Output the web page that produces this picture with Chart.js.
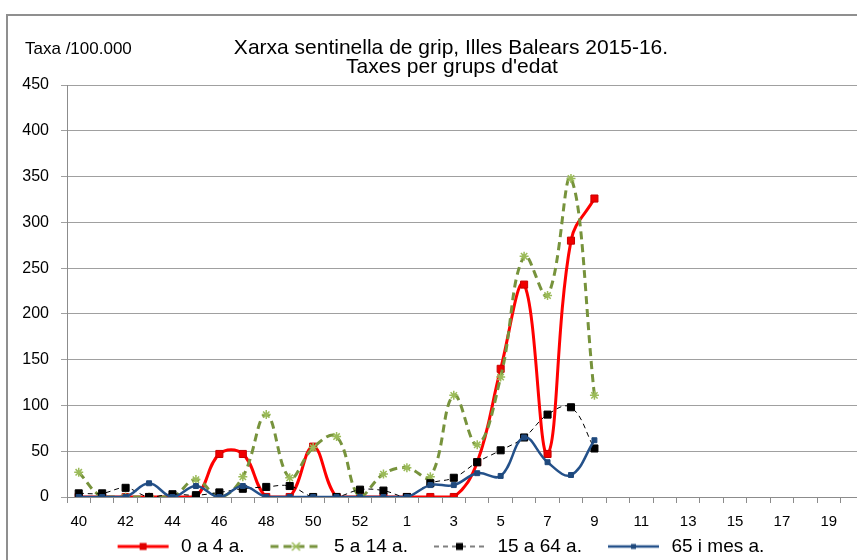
<!DOCTYPE html>
<html>
<head>
<meta charset="utf-8">
<script src="https://cdn.jsdelivr.net/npm/chart.js@4.4.0/dist/chart.umd.min.js"></script>
<style>
html, body { margin: 0; padding: 0; background: #fff; overflow: hidden; width: 857px; height: 560px; }
#wrap { position: absolute; left: 0; top: 0; width: 880px; height: 560px; }
</style>
</head>
<body>
<div id="wrap"><canvas id="c" width="880" height="560"></canvas></div>
<script>
// Flu sentinel network, Balearic Islands 2015-16: weekly rates by age group.
const FONT = '"Liberation Sans", Arial, sans-serif';

const weeks = ["40","41","42","43","44","45","46","47","48","49","50","51","52","53",
               "1","2","3","4","5","6","7","8","9","10","11","12","13","14","15","16","17","18","19","20"];
const age0_4   = [0,0,0,0,0,0,47,47,0,0,55,0,0,0, 0,0,0,38,140,232,47,280,326];
const age5_14  = [27,0,0,0,0,19,0,22,90,21,54,66,0,25, 32,22,111,57,131,263,220,348,111];
const age15_64 = [4,4,10,0,3,2,5,9,11,12,0,0,8,7, 0,15,21,38,51,65,90,98,53];
const age65    = [0,0,0,15,0,12,0,12,0,0,0,0,0,0, 0,13,13,26,23,65,38,24,62];
const yTicks = {min: 0, max: 450, step: 50};

const pad = arr => weeks.map((w, i) => i < arr.length ? arr[i] : null);

// legend swatch: short line with the marker in the middle (sits toward the text side)
function swatch(color, width, dash, marker, mColor, mSize) {
  const cv = document.createElement("canvas");
  cv.width = 72; cv.height = 14;
  const x = cv.getContext("2d");
  const x0 = 18, x1 = 69, mid = (x0 + x1) / 2;
  x.strokeStyle = color; x.lineWidth = width; x.setLineDash(dash);
  x.beginPath(); x.moveTo(x0, 7); x.lineTo(x1, 7); x.stroke();
  x.setLineDash([]);
  if (marker === "rect") {
    x.fillStyle = mColor; x.fillRect(mid - mSize / 2, 7 - mSize / 2, mSize, mSize);
  } else {
    x.strokeStyle = mColor; x.lineWidth = 1.5; const r = mSize / 2;
    x.beginPath();
    x.moveTo(mid - r, 7 - r); x.lineTo(mid + r, 7 + r);
    x.moveTo(mid - r, 7 + r); x.lineTo(mid + r, 7 - r);
    x.moveTo(mid - r, 7); x.lineTo(mid + r, 7);
    x.stroke();
  }
  return cv;
}

const SW = [
  swatch("#ff0000", 3, [], "rect", "#e00000", 7),
  swatch("#77933c", 3, [8, 5], "star", "#9bbb59", 8),
  swatch("#000000", 1, [5, 4], "rect", "#000000", 7),
  swatch("#24518a", 2.5, [], "rect", "#1f497d", 5)
];

const frame = {
  id: "frame",
  beforeDraw(chart) {
    const c = chart.ctx;
    c.save();
    c.strokeStyle = "#8f8f8f"; c.lineWidth = 2;
    c.strokeRect(7, 15, 1000, 1000);
    c.restore();
  },
  afterDraw(chart) {
    const c = chart.ctx;
    c.save();
    c.fillStyle = "#000"; c.textBaseline = "middle";
    c.font = "17px " + FONT; c.textAlign = "left";
    c.fillText("Taxa /100.000", 25, 49);
    c.font = "21px " + FONT; c.textAlign = "center";
    c.fillText("Xarxa sentinella de grip, Illes Balears 2015-16.", 451, 48);
    c.fillText("Taxes per grups d'edat", 452, 67);
    c.restore();
  }
};

const ds = (label, data, color, width, dash, style, radius, fill, edge, order) => ({
  label, data: pad(data), borderColor: color, borderWidth: width, borderDash: dash,
  pointStyle: style, pointRadius: radius, pointHoverRadius: radius,
  pointBackgroundColor: fill, pointBorderColor: edge, pointBorderWidth: 1,
  tension: 0.4, fill: false, spanGaps: false, order
});

new Chart(document.getElementById("c"), {
  type: "line",
  data: {
    labels: weeks,
    datasets: [
      ds("0 a 4 a.",    age0_4,   "#ff0000", 3,   [],     "rect", 5,   "#f00000", "#c80000", 4),
      Object.assign(ds("5 a 14 a.", age5_14, "#77933c", 3, [8, 5], "star", 4.5, "#9bbb59", "#9bbb59", 3), {pointBorderWidth: 1.5}),
      ds("15 a 64 a.",  age15_64, "#000000", 1,   [5, 4], "rect", 5,   "#000000", "#000000", 2),
      ds("65 i mes a.", age65,    "#24518a", 2.5, [],     "rect", 3.5, "#1f497d", "#1f497d", 1)
    ]
  },
  options: {
    responsive: false, animation: false, devicePixelRatio: 1,
    layout: {padding: {top: 85, right: 16, bottom: -6, left: 0}},
    plugins: {
      tooltip: {enabled: false},
      title: {display: false},
      legend: {
        position: "bottom",
        labels: {
          usePointStyle: true, pointStyleWidth: 72, padding: 8, color: "#000",
          font: {family: FONT, size: 19},
          generateLabels: chart => chart.data.datasets.map((d, i) => ({
            text: d.label, pointStyle: SW[i], datasetIndex: i, hidden: false,
            fillStyle: d.borderColor, strokeStyle: d.borderColor, lineWidth: 0, fontColor: "#000"
          }))
        }
      }
    },
    scales: {
      x: {
        offset: true,
        grid: {offset: true, drawOnChartArea: false, drawTicks: true, tickLength: 6, color: "#8c8c8c"},
        border: {color: "#8c8c8c", width: 1},
        ticks: {autoSkip: false, maxRotation: 0, padding: 10, color: "#000", font: {family: FONT, size: 15},
                callback: (v, i) => i % 2 ? "" : weeks[i]},
        afterFit: s => { s.height = 32; }
      },
      y: {
        min: yTicks.min, max: yTicks.max,
        grid: {color: "#a0a0a0", tickLength: 6},
        border: {color: "#8c8c8c", width: 1},
        ticks: {stepSize: yTicks.step, padding: 12, color: "#000", font: {family: FONT, size: 16}},
        afterFit: s => { s.width = 67; }
      }
    }
  },
  plugins: [frame]
});
</script>
</body>
</html>
